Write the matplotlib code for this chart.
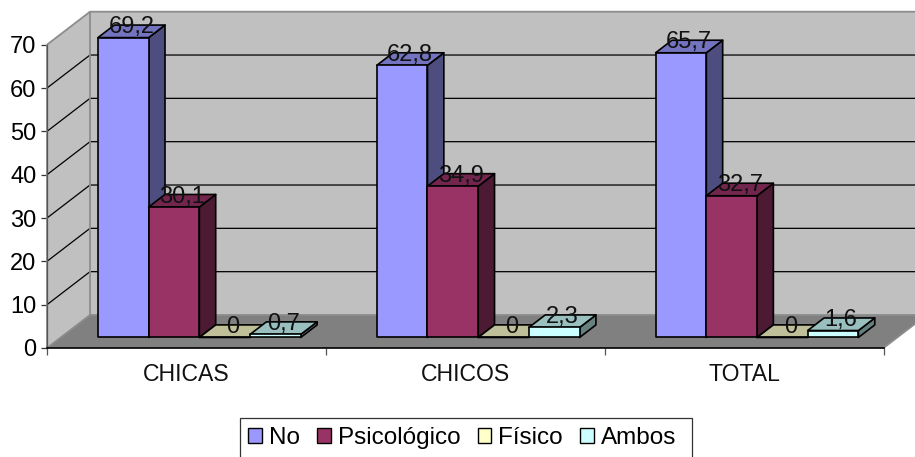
import matplotlib
matplotlib.use("Agg")
import matplotlib.pyplot as plt
from matplotlib.patches import Polygon, Patch, Rectangle

categories = ["CHICAS", "CHICOS", "TOTAL"]
series_names = ["No", "Psicológico", "Físico", "Ambos"]
no_vals = [69.2, 62.8, 65.7]
psico_vals = [30.1, 34.9, 32.7]
fisico_vals = [0, 0, 0]
ambos_vals = [0.7, 2.3, 1.6]
y_ticks = [0, 10, 20, 30, 40, 50, 60, 70]

front_cols = ["#9999FF", "#993366", "#FFFFCC", "#CCFFFF"]
top_cols = ["#7373BF", "#73264D", "#BFBF99", "#99BFBF"]
side_cols = ["#4D4D80", "#4D1A33", "#808066", "#668080"]

W, H = 915, 457
LEFT, RIGHT, BOTTOM, TOP = 47, 883.5, 348, 44.7
PX_X = (RIGHT - LEFT) / 3
PX_Y = (BOTTOM - TOP) / 70
DEPTH_X = 43 / PX_X
DEPTH_Y = 33 / PX_Y
BAR_W = 50.7 / PX_X
GAP = 37.2 / PX_X
D0, D1 = 0.32, 0.70

plt.rcParams["font.family"] = ["Liberation Sans", "DejaVu Sans"]
fig = plt.figure(figsize=(W / 100, H / 100), dpi=100, facecolor="white")
ax = fig.add_axes([LEFT / W, 1 - BOTTOM / H, (RIGHT - LEFT) / W, (BOTTOM - TOP) / H])
ax.set_xlim(0, 3)
ax.set_ylim(0, 70)
ax.patch.set_visible(False)
for s in ax.spines.values():
    s.set_visible(False)


def proj(x, v, d):
    return (x + d * DEPTH_X, v + d * DEPTH_Y)


def poly(pts, fc, ec="none", lw=0, z=1):
    ax.add_patch(Polygon(pts, closed=True, facecolor=fc, edgecolor=ec, linewidth=lw,
                         joinstyle="round", clip_on=False, zorder=z))


# walls and floor
poly([proj(0, 0, 1), proj(3, 0, 1), proj(3, 70, 1), proj(0, 70, 1)], "#C0C0C0")
poly([proj(0, 0, 0), proj(0, 0, 1), proj(0, 70, 1), proj(0, 70, 0)], "#C0C0C0")
poly([proj(0, 0, 0), proj(3, 0, 0), proj(3, 0, 1), proj(0, 0, 1)], "#808080")

for t in y_ticks[1:-1]:
    xs, ys = zip(proj(0, t, 0), proj(0, t, 1), proj(3, t, 1))
    ax.plot(xs, ys, color="black", lw=0.9, clip_on=False, zorder=2)

for pts in ([proj(0, 0, 0), proj(0, 70, 0), proj(0, 70, 1), proj(3, 70, 1)],
            [proj(0, 0, 1), proj(0, 70, 1)],
            [proj(0, 0, 0), proj(0, 0, 1), proj(3, 0, 1)],
            [proj(3, 0, 0), proj(3, 0, 1)]):
    xs, ys = zip(*pts)
    ax.plot(xs, ys, color="#8C8C8C", lw=1.3, clip_on=False, zorder=2)
ax.plot([0, 0], [0, 70], color="#555555", lw=0.9, clip_on=False, zorder=2)
ax.plot([0, 3], [0, 0], color="black", lw=1.2, clip_on=False, zorder=2)

# bars, left to right so each front covers the previous side
all_vals = [no_vals, psico_vals, fisico_vals, ambos_vals]
for c in range(len(categories)):
    for s, vals in enumerate(all_vals):
        v = vals[c]
        x0 = c + GAP + s * BAR_W
        x1 = x0 + BAR_W
        z = 3 + c * 4 + s
        edge = dict(ec="black", lw=1.2, z=z)
        poly([proj(x1, 0, D0), proj(x1, 0, D1), proj(x1, v, D1), proj(x1, v, D0)], side_cols[s], **edge)
        poly([proj(x0, v, D0), proj(x1, v, D0), proj(x1, v, D1), proj(x0, v, D1)], top_cols[s], **edge)
        poly([proj(x0, 0, D0), proj(x1, 0, D0), proj(x1, v, D0), proj(x0, v, D0)], front_cols[s], **edge)
        ax.annotate(str(v).replace(".", ","), proj((x0 + x1) / 2, v, D0),
                    xytext=(5.8, 7.5), textcoords="offset points", ha="center", va="center",
                    fontsize=17, color="#111111", zorder=30, annotation_clip=False)

ax.set_yticks(y_ticks)
ax.set_xticks([0, 1, 2, 3])
ax.set_xticklabels([])
ax.tick_params(axis="y", length=4, width=0.9, color="#333333", labelsize=17, pad=3.5)
ax.tick_params(axis="x", length=5, width=0.9, color="#555555")
for c, name in enumerate(categories):
    ax.annotate(name, (c + 0.5, 0), xytext=(0, -19), textcoords="offset points",
                ha="center", va="center", fontsize=16.6, color="#111111", annotation_clip=False)

# legend frame runs off the bottom of the image
fig.add_artist(Rectangle((240 / W, -5 / H), 452 / W, (1 - 418 / H) + 5 / H, transform=fig.transFigure,
                         facecolor="white", edgecolor="#333333", linewidth=0.9))
handles = [Patch(facecolor=front_cols[i], edgecolor="black", linewidth=1.0, label=series_names[i])
           for i in range(4)]
leg = fig.legend(handles=handles, ncol=4, loc="lower left",
                 bbox_to_anchor=(240 / W, 0 / H), bbox_transform=fig.transFigure,
                 prop={"size": 17.5}, frameon=False,
                 borderpad=0.34, handlelength=0.56, handleheight=0.56,
                 handletextpad=0.29, columnspacing=0.71, borderaxespad=0)

fig.savefig("out.png", dpi=100, facecolor="white")
plt.close(fig)
